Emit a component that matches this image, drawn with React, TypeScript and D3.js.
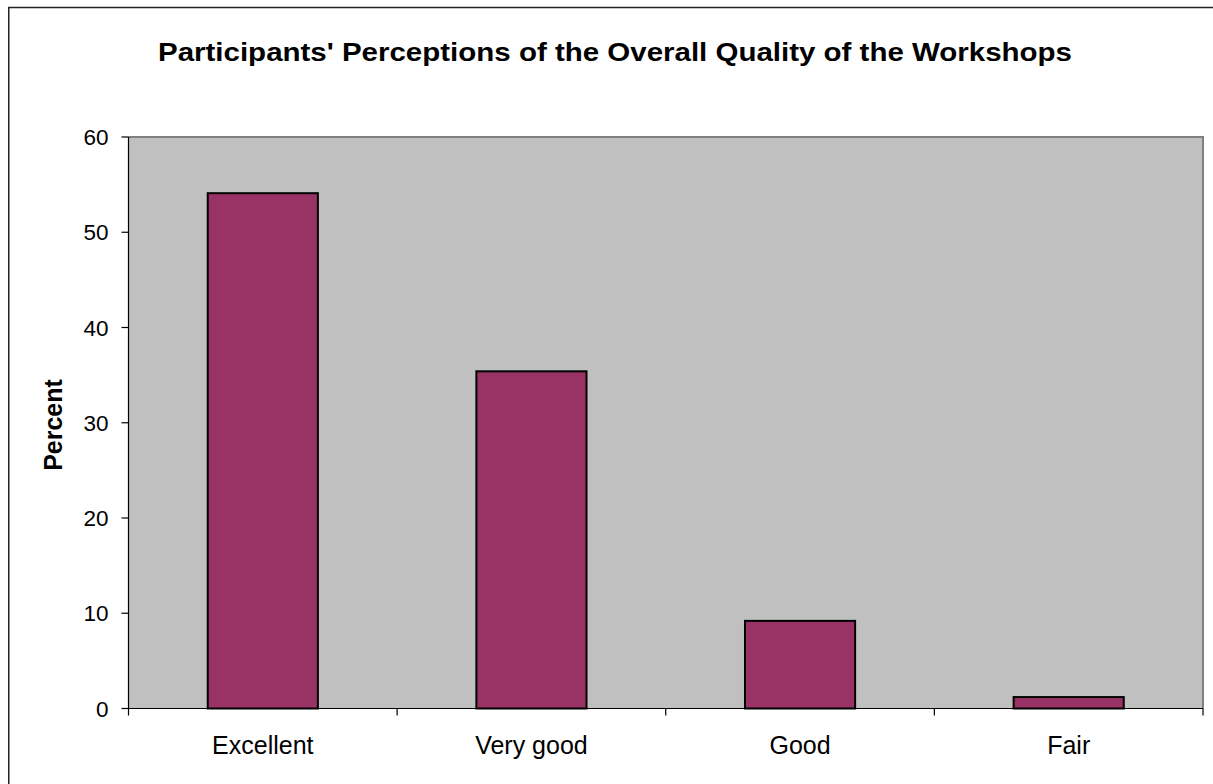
import React from "react";
import * as d3 from "d3";

const categories = ["Excellent", "Very good", "Good", "Fair"];
const percents = [54.1, 35.4, 9.2, 1.2];
const yTicks = [0, 10, 20, 30, 40, 50, 60];
const title = "Participants' Perceptions of the Overall Quality of the Workshops";

const W = 1213;
const H = 784;
const plot = { left: 128.5, right: 1203, top: 137, bottom: 708.5 };
const FONT = "'Liberation Sans', Arial, sans-serif";

export default function App() {
  const x = d3
    .scaleBand<string>()
    .domain(categories)
    .range([plot.left, plot.right])
    .paddingInner(0.59)
    .paddingOuter(0.295);
  const band = d3.scaleBand<string>().domain(categories).range([plot.left, plot.right]);
  const y = d3.scaleLinear().domain([0, 60]).range([plot.bottom, plot.top]);

  const boundaries = [plot.left, ...categories.map((c) => (band(c) as number) + band.bandwidth())];

  return (
    <svg
      width={W}
      height={H}
      style={{ position: "absolute", left: 0, top: 0, display: "block", background: "#fff" }}
    >
      <rect x={8.75} y={7.5} width={1230} height={800} fill="#fff" stroke="#222" strokeWidth={1.5} />
      <text
        x={158}
        y={61}
        textLength={914}
        lengthAdjust="spacingAndGlyphs"
        fontFamily={FONT}
        fontWeight="bold"
        fontSize={25.5}
        fill="#000"
      >
        {title}
      </text>

      <rect
        x={plot.left}
        y={plot.top}
        width={plot.right - plot.left}
        height={plot.bottom - plot.top}
        fill="#C0C0C0"
      />
      <path
        d={`M${plot.left},${plot.top}H${plot.right}V${plot.bottom}`}
        fill="none"
        stroke="#808080"
        strokeWidth={2}
      />

      {categories.map((c, i) => (
        <rect
          key={c}
          x={x(c)}
          y={y(percents[i])}
          width={x.bandwidth()}
          height={plot.bottom - y(percents[i])}
          fill="#993366"
          stroke="#000"
          strokeWidth={2}
        />
      ))}

      {/* y axis */}
      <line x1={plot.left} x2={plot.left} y1={plot.top} y2={plot.bottom} stroke="#000" strokeWidth={1.2} />
      {yTicks.map((t) => (
        <g key={t}>
          <line x1={plot.left - 7} x2={plot.left} y1={y(t)} y2={y(t)} stroke="#000" strokeWidth={1.2} />
          <text
            x={108.5}
            y={y(t)}
            dy="0.36em"
            textAnchor="end"
            fontFamily={FONT}
            fontSize={22.5}
            fill="#000"
          >
            {t}
          </text>
        </g>
      ))}

      {/* x axis */}
      <line x1={plot.left} x2={plot.right} y1={plot.bottom} y2={plot.bottom} stroke="#000" strokeWidth={1.2} />
      {boundaries.map((b, i) => (
        <line key={i} x1={b} x2={b} y1={plot.bottom} y2={plot.bottom + 7} stroke="#000" strokeWidth={1.2} />
      ))}
      {categories.map((c) => (
        <text
          key={c}
          x={(band(c) as number) + band.bandwidth() / 2}
          y={753.5}
          textAnchor="middle"
          fontFamily={FONT}
          fontSize={25}
          fill="#000"
        >
          {c}
        </text>
      ))}

      <text
        transform={`translate(61.5,425) rotate(-90)`}
        textAnchor="middle"
        fontFamily={FONT}
        fontWeight="bold"
        fontSize={25}
        fill="#000"
      >
        Percent
      </text>
    </svg>
  );
}
